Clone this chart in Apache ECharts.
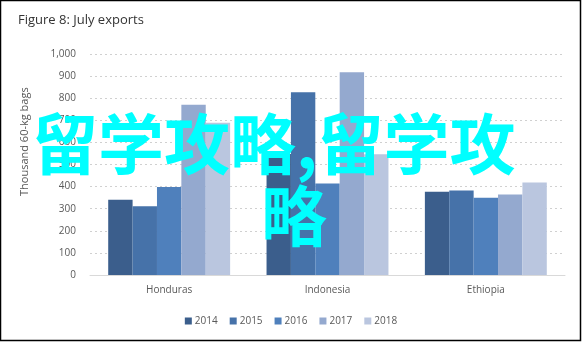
<!DOCTYPE html>
<html><head><meta charset="utf-8">
<script src="https://cdn.jsdelivr.net/npm/echarts@6/dist/echarts.min.js"></script>
<style>html,body{margin:0;padding:0;background:#fff}#c{width:582px;height:343px}</style>
</head><body><div id="c"></div>
<script>
var categories = ['Honduras', 'Indonesia', 'Ethiopia'];
var years = ['2014', '2015', '2016', '2017', '2018'];
var v2014 = [341, 548, 377];
var v2015 = [311, 827, 382];
var v2016 = [398, 414, 350];
var v2017 = [770, 917, 364];
var v2018 = [689, 546, 418];
var colors = ['#3B5E8C', '#4672A9', '#4F80BC', '#94A9CF', '#BAC6DF'];
var values = [v2014, v2015, v2016, v2017, v2018];

var font = '"Open Sans", "Liberation Sans", sans-serif';
var chart = echarts.init(document.getElementById('c'));
chart.setOption({
  animation: false,
  textStyle: {fontFamily: font},
  title: {text: 'Figure 8: July exports', left: 13, top: 9,
    textStyle: {fontSize: 13, fontWeight: 'normal', color: '#333', fontFamily: font}},
  grid: {left: 90, right: 17, top: 54, bottom: 68},
  legend: {bottom: 12, left: 'center', itemWidth: 7, itemHeight: 7, itemGap: 12,
    icon: 'rect', textStyle: {fontSize: 10, color: '#595959', fontFamily: font, padding: [0, 0, 0, -2]},
    data: years},
  xAxis: {type: 'category', data: categories,
    axisLine: {lineStyle: {color: '#d9d9d9'}}, axisTick: {show: false},
    axisLabel: {fontSize: 10, color: '#595959', margin: 10}},
  yAxis: {type: 'value', min: 0, max: 1000, interval: 100,
    axisLine: {show: false}, axisTick: {show: false},
    splitLine: {lineStyle: {color: '#d0d0d0', type: [2, 3]}},
    axisLabel: {fontSize: 10, color: '#595959', margin: 14,
      formatter: function (v) { return v.toLocaleString('en-US'); }}},
  series: years.map(function (y, i) {
    return {name: y, type: 'bar', data: values[i], barGap: '0%', barCategoryGap: '23%',
      itemStyle: {color: colors[i]}};
  }),
  graphic: [
    {type: 'text', x: 19, y: 196, rotation: Math.PI / 2,
      style: {text: 'Thousand 60-kg bags', fontSize: 11, fill: '#595959', fontFamily: font}},
    {type: 'rect', shape: {x: 0.5, y: 0.5, width: 580, height: 340},
      style: {fill: 'none', stroke: '#000', lineWidth: 1.5}},
    {type: 'text', x: 32, y: 111, z: 100,
      style: {text: '留学攻略,留学攻', fontSize: 66, fontWeight: 'bold', fill: '#00FFFF',
        fontFamily: '"Noto Sans CJK SC", sans-serif'}},
    {type: 'text', x: 261, y: 183, z: 100,
      style: {text: '略', fontSize: 66, fontWeight: 'bold', fill: '#00FFFF',
        fontFamily: '"Noto Sans CJK SC", sans-serif'}}
  ]
});
</script></body></html>
